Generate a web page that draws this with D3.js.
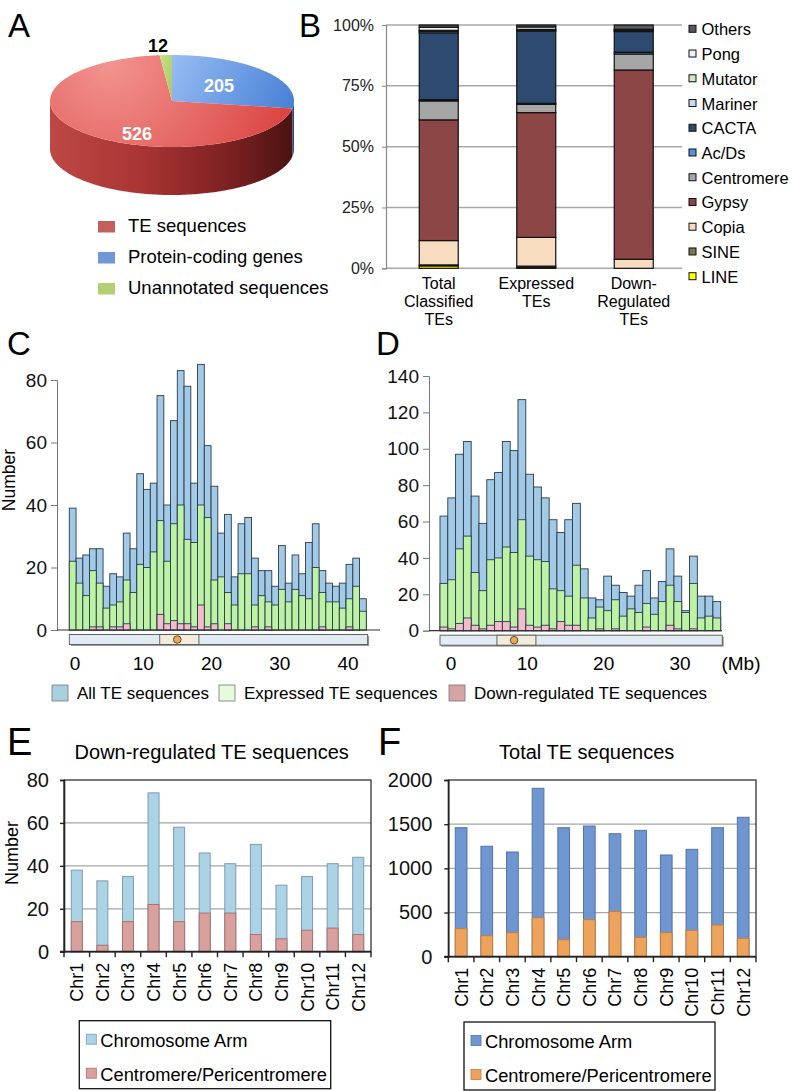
<!DOCTYPE html>
<html><head><meta charset="utf-8">
<script src="https://cdn.jsdelivr.net/npm/d3@7"></script>
<style>
body{margin:0;background:#fff}
svg{display:block}
text{font-family:"Liberation Sans",Arial,Helvetica,sans-serif;fill:#000}
</style>
</head><body>
<svg id="chart" width="796" height="1091"></svg>
<script>
// ---------------- DATA ----------------
const pieCategories = ["TE sequences", "Protein-coding genes", "Unannotated sequences"];
const pieValues = [526, 205, 12];

const teClasses = ["LINE", "SINE", "Copia", "Gypsy", "Centromere", "Ac/Ds", "CACTA", "Mariner", "Mutator", "Pong", "Others"];
const bGroups = ["Total\nClassified\nTEs", "Expressed\nTEs", "Down-\nRegulated\nTEs"];
const bTotalClassified = [1.0, 0.4, 10.0, 49.6, 7.8, 0.5, 27.5, 0.6, 0.4, 1.3, 0.9];
const bExpressed = [0.3, 0.6, 11.8, 51.3, 3.4, 0.4, 29.7, 0.4, 0.3, 1.0, 0.8];
const bDownRegulated = [0, 0, 3.7, 77.8, 6.6, 0.7, 8.5, 0.4, 0.2, 0.3, 1.8];
const bTicks = [0, 25, 50, 75, 100];

const cAll = [39,23,24,26,26,14,18,17,31,26,50,45,47,75,40,67,83,78,47,85,59,46,31,37,17,34,36,23,19,19,14,27,15,24,18,28,34,19,15,14,15,21,23,10];
const cExpressed = [22,15,11,19,15,7,8,9,16,12,21,20,25,35,22,34,40,29,28,40,36,16,17,12,8,18,18,8,11,9,8,13,9,13,11,10,20,12,9,9,7,10,14,6];
const cDown = [0,0,0,1,1,0,1,1,2,0,0,0,0,5,2,3,2,2,1,8,1,2,0,2,0,0,0,1,0,1,0,0,0,0,0,0,0,1,0,0,0,1,0,0];
const cYTicks = [0, 20, 40, 60, 80];
const cMbTicks = [0, 10, 20, 30, 40];

const dAll = [63,73,97,104,74,59,83,87,104,99,127,86,79,73,61,54,61,70,34,18,17,30,25,21,19,25,33,18,27,45,30,11,41,19,19,16];
const dExpressed = [26,28,45,52,32,22,39,40,46,43,61,41,39,38,23,22,19,36,18,7,13,11,17,8,12,10,15,9,16,25,16,10,26,7,8,7];
const dDown = [2,1,4,7,3,1,3,5,5,2,12,3,2,3,1,5,3,3,0,0,1,0,1,0,0,0,2,0,0,3,1,0,1,0,0,0];
const dYTicks = [0, 20, 40, 60, 80, 100, 120, 140];
const dMbTicks = [0, 10, 20, 30];

const histLegend = ["All TE sequences", "Expressed TE sequences", "Down-regulated TE sequences"];

const chrNames = ["Chr1","Chr2","Chr3","Chr4","Chr5","Chr6","Chr7","Chr8","Chr9","Chr10","Chr11","Chr12"];
const eTotal = [38,33,35,74,58,46,41,50,31,35,41,44];
const eCentro = [14,3,14,22,14,18,18,8,6,10,11,8];
const eYTicks = [0, 20, 40, 60, 80];
const fTotal = [1460,1250,1185,1906,1460,1479,1392,1430,1151,1215,1460,1578];
const fCentro = [317,238,272,441,192,419,513,219,272,298,359,208];
const fYTicks = [0, 500, 1000, 1500, 2000];
const regionLegend = ["Chromosome Arm", "Centromere/Pericentromere"];

// ---------------- STYLE ----------------
const svg = d3.select("#chart");
const defs = svg.append("defs");
const bPalette = ["#ffff00","#7a7850","#f8dcc0","#8c4646","#a6a6a6","#5b8fd9","#2f4a70","#c6d9f1","#d7e4bd","#eef0f4","#595959"];

function grad(id, type, attrs, stops){
  const gr = defs.append(type).attr("id", id);
  Object.entries(attrs).forEach(([k,v])=>gr.attr(k,v));
  stops.forEach(([o,c])=>gr.append("stop").attr("offset",o).attr("stop-color",c));
}

function letter(t, x, y, size){
  svg.append("text").attr("x",x).attr("y",y).attr("font-size",size).text(t);
}

// ---------------- PANEL A ----------------
(function(){
  const g = svg.append("g");
  const cx=172, cy=101, rx=122, ry=46, depth=48;
  grad("top0","radialGradient",{gradientUnits:"userSpaceOnUse",cx:110,cy:62,r:210},[[0,"#f29490"],[1,"#d83a38"]]);
  grad("side0","linearGradient",{gradientUnits:"userSpaceOnUse",x1:cx-rx,x2:cx+rx,y1:0,y2:0},[[0,"#bd4844"],[0.4,"#a73333"],[0.75,"#7a2020"],[1,"#4a1212"]]);
  grad("top1","linearGradient",{gradientUnits:"userSpaceOnUse",x1:172,y1:55,x2:290,y2:115},[[0,"#97bcf2"],[1,"#4680d6"]]);
  grad("side1","linearGradient",{x1:0,x2:1,y1:0,y2:0},[[0,"#2b5597"],[1,"#22457c"]]);
  grad("top2","linearGradient",{x1:0,x2:1,y1:0,y2:1},[[0,"#c4df84"],[1,"#a9c966"]]);
  grad("side2","linearGradient",{x1:0,x2:1,y1:0,y2:0},[[0,"#7a9a3a"],[1,"#6a8a30"]]);

  const order = [1, 0, 2];
  const arcs = d3.pie().sort(null).value(i=>pieValues[i])(order);
  const pt = (t,dy)=>[cx+rx*Math.sin(t), cy-ry*Math.cos(t)+dy];
  const sample = (a0,a1,dy)=>{const n=Math.max(2,Math.ceil((a1-a0)/0.02));return d3.range(n+1).map(k=>pt(a0+(a1-a0)*k/n,dy));};
  arcs.forEach(a=>{
    const s=Math.max(a.startAngle,Math.PI/2), e=Math.min(a.endAngle,3*Math.PI/2);
    if(s>=e) return;
    const pts = sample(s,e,0).concat(sample(s,e,depth).reverse());
    g.append("path").attr("d","M"+pts.map(p=>p.join(",")).join("L")+"Z").attr("fill",`url(#side${a.data})`);
  });
  arcs.forEach(a=>{
    const pts = sample(a.startAngle,a.endAngle,0);
    g.append("path").attr("d",`M${cx},${cy}L`+pts.map(p=>p.join(",")).join("L")+"Z").attr("fill",`url(#top${a.data})`);
  });
  const labPos = {0:[137,140,"#fff"],1:[219,92,"#fff"],2:[158,52,"#000"]};
  pieValues.forEach((v,i)=>{
    g.append("text").attr("x",labPos[i][0]).attr("y",labPos[i][1]).attr("text-anchor","middle")
      .attr("font-size",18).attr("font-weight","bold").style("fill",labPos[i][2]).text(v);
  });
  const legCol = ["#c3605c","#6f98d8","#b3cf72"];
  pieCategories.forEach((c,i)=>{
    const y = 221 + i*31;
    g.append("rect").attr("x",98).attr("y",y).attr("width",17).attr("height",11.5).attr("fill",legCol[i]);
    g.append("text").attr("x",128).attr("y",y+11).attr("font-size",18.5).text(c);
  });
  letter("A", 8, 37, 33);
})();

// ---------------- PANEL B ----------------
(function(){
  const g = svg.append("g");
  const x = d3.scaleBand().domain(bGroups).range([390, 682.5]).paddingInner(0.6).paddingOuter(0.3);
  const y = d3.scaleLinear().domain([0,100]).range([268.3, 25]);
  g.selectAll(".grid").data(bTicks).join("line")
    .attr("x1",386).attr("x2",682).attr("y1",d=>y(d)).attr("y2",d=>y(d))
    .attr("stroke","#a8a8a8").attr("stroke-width",1.5);
  const ax = g.append("g").attr("transform","translate(386,0)")
    .call(d3.axisLeft(y).tickValues(bTicks).tickSize(4).tickPadding(8).tickFormat(d=>d+"%"));
  ax.select(".domain").attr("stroke","#888").attr("stroke-width",1.2);
  ax.selectAll(".tick line").attr("stroke","#888");
  ax.selectAll("text").attr("font-size",16).attr("font-family",null).style("fill","#222");
  const series = [bTotalClassified, bExpressed, bDownRegulated];
  const rows = bGroups.map((gname,gi)=>{const o={group:gname};teClasses.forEach((c,ci)=>o[c]=series[gi][ci]);return o;});
  const stacked = d3.stack().keys(teClasses)(rows);
  stacked.forEach((s,si)=>{
    g.selectAll(null).data(s).join("rect")
      .attr("x",d=>x(d.data.group)).attr("width",x.bandwidth())
      .attr("y",d=>y(d[1])).attr("height",d=>Math.max(0,y(d[0])-y(d[1])))
      .attr("fill",bPalette[si]).attr("stroke","#111").attr("stroke-width",1.2);
  });
  bGroups.forEach(gname=>{
    gname.split("\n").forEach((ln,li)=>{
      g.append("text").attr("x",x(gname)+x.bandwidth()/2).attr("y",288.5+li*18.4)
        .attr("text-anchor","middle").attr("font-size",16).text(ln);
    });
  });
  const rev = teClasses.slice().reverse();
  rev.forEach((c,i)=>{
    const yc = 29.3 + i*24.74;
    const ci = teClasses.indexOf(c);
    g.append("rect").attr("x",689).attr("y",yc-4).attr("width",7).attr("height",7)
      .attr("fill",bPalette[ci]).attr("stroke","#111").attr("stroke-width",1);
    g.append("text").attr("x",701.5).attr("y",yc+6).attr("font-size",16.5).text(c);
  });
  letter("B", 299, 37, 33);
})();

// ---------------- PANELS C & D ----------------
const histCols = {all:"#a2cae6", expr:"#bdf2a4", down:"#f2bccb"};
function hist(o){
  const g = svg.append("g");
  const x = d3.scaleBand().domain(d3.range(o.all.length)).range([o.bx0, o.bx1]);
  const y = d3.scaleLinear().domain([0,o.yMax]).range([o.base, o.yTop]);
  const layers = [[o.all,histCols.all],[o.expr,histCols.expr],[o.down,histCols.down]];
  layers.forEach(([vals,col])=>{
    g.selectAll(null).data(vals).join("rect")
      .attr("x",(d,i)=>x(i)).attr("width",x.bandwidth())
      .attr("y",d=>y(d)).attr("height",d=>o.base-y(d))
      .attr("fill",col).attr("stroke",d=>d>0?"#2b3a4a":"none").attr("stroke-width",0.9);
  });
  const ax = g.append("g").attr("transform",`translate(${o.axX},0)`)
    .call(d3.axisLeft(y).tickValues(o.yTicks).tickSize(6).tickPadding(4));
  ax.select(".domain").attr("stroke","#777");
  ax.selectAll(".tick line").attr("stroke","#777");
  ax.selectAll("text").attr("font-size",19).attr("font-family",null).style("fill","#111");
  g.append("line").attr("x1",o.axX).attr("x2",o.axEnd).attr("y1",o.base).attr("y2",o.base).attr("stroke","#333").attr("stroke-width",1.2);
  const mb = d3.scaleLinear().domain([0,o.all.length]).range([o.bx0,o.bx1]);
  const iy = o.base+4.5, ih = 10;
  g.append("rect").attr("x",mb(0)).attr("y",iy+1.5).attr("width",mb(o.chrLen)-mb(0)).attr("height",ih).attr("fill","#9a9a9a").attr("transform","translate(1.5,0)");
  g.append("rect").attr("x",mb(0)).attr("y",iy).attr("width",mb(o.chrLen)-mb(0)).attr("height",ih).attr("fill","#e1ebf3").attr("stroke","#555").attr("stroke-width",0.9);
  g.append("rect").attr("x",mb(o.cen[0])).attr("y",iy).attr("width",mb(o.cen[1])-mb(o.cen[0])).attr("height",ih).attr("fill","#f2ecdc").attr("stroke","#555").attr("stroke-width",0.9);
  g.append("circle").attr("cx",mb(o.cen[2])).attr("cy",iy+ih/2).attr("r",3.8).attr("fill","#f3a64a").attr("stroke","#444").attr("stroke-width",0.9);
  const t = d3.scaleLinear().domain([0,o.mbTicks[o.mbTicks.length-1]]).range(o.tickRange);
  o.mbTicks.forEach(v=>g.append("text").attr("x",t(v)).attr("y",670).attr("text-anchor","middle").attr("font-size",19).text(v));
  return g;
}
hist({all:cAll,expr:cExpressed,down:cDown,bx0:69.3,bx1:366.3,base:630,yTop:380,yMax:80,yTicks:cYTicks,axX:57,axEnd:380,
  chrLen:44.2,cen:[13.4,19.2,16.0],mbTicks:cMbTicks,tickRange:[75,348]});
hist({all:dAll,expr:dExpressed,down:dDown,bx0:440,bx1:720.7,base:630.7,yTop:376,yMax:140,yTicks:dYTicks,axX:429,axEnd:722,
  chrLen:36.2,cen:[7.3,12.3,9.5],mbTicks:dMbTicks,tickRange:[451,680]});
svg.append("text").attr("x",741).attr("y",670).attr("text-anchor","middle").attr("font-size",19).text("(Mb)");
svg.append("text").attr("transform","translate(15,480) rotate(-90)").attr("text-anchor","middle").attr("font-size",17.5).text("Number");
letter("C", 7, 355, 33);
letter("D", 376, 355, 33);
(function(){
  const sw = ["#a9d0e0","#e6fadc","#d6a4a4"];
  const xs = [52, 219, 449];
  histLegend.forEach((l,i)=>{
    svg.append("rect").attr("x",xs[i]).attr("y",685).attr("width",16).attr("height",16).attr("fill",sw[i]).attr("stroke","#777").attr("stroke-width",0.8);
    svg.append("text").attr("x",xs[i]+25).attr("y",699).attr("font-size",17).text(l);
  });
})();

// ---------------- PANELS E & F ----------------
function chrPanel(o){
  const g = svg.append("g");
  const x = d3.scaleBand().domain(chrNames).range([o.x0,o.x1]).paddingInner(o.pad).paddingOuter(o.pad/2);
  const y = d3.scaleLinear().domain([0,o.yMax]).range([o.base,o.top]);
  o.yTicks.slice(1,-1).forEach(v=>g.append("line").attr("x1",o.x0).attr("x2",o.x1).attr("y1",y(v)).attr("y2",y(v)).attr("stroke","#a6a6a6").attr("stroke-width",1.3));
  g.selectAll(null).data(o.total).join("rect")
    .attr("x",(d,i)=>x(chrNames[i])).attr("width",x.bandwidth())
    .attr("y",d=>y(d)).attr("height",d=>o.base-y(d))
    .attr("fill",o.armCol).attr("stroke",o.armStroke).attr("stroke-width",1);
  g.selectAll(null).data(o.cen).join("rect")
    .attr("x",(d,i)=>x(chrNames[i])).attr("width",x.bandwidth())
    .attr("y",d=>y(d)).attr("height",d=>o.base-y(d))
    .attr("fill",o.cenCol).attr("stroke",o.cenStroke).attr("stroke-width",1);
  g.append("rect").attr("x",o.x0).attr("y",o.top).attr("width",o.x1-o.x0).attr("height",o.base-o.top).attr("fill","none").attr("stroke","#222").attr("stroke-width",1.2);
  const ax = g.append("g").attr("transform",`translate(${o.x0},0)`)
    .call(d3.axisLeft(y).tickValues(o.yTicks).tickSize(4).tickPadding(o.tp).tickFormat(d3.format("d")));
  ax.select(".domain").attr("stroke","#222").attr("stroke-width",1.6);
  ax.selectAll(".tick line").attr("stroke","#222").attr("stroke-width",1.4);
  ax.selectAll("text").attr("font-size",20).attr("font-family",null).style("fill","#111");
  g.append("line").attr("x1",o.x0-4).attr("x2",o.x1).attr("y1",o.base).attr("y2",o.base).attr("stroke","#222").attr("stroke-width",1.8);
  d3.range(13).forEach(k=>{
    const xx = o.x0 + k*x.step();
    g.append("line").attr("x1",xx).attr("x2",xx).attr("y1",o.base).attr("y2",o.base+5.5).attr("stroke","#222").attr("stroke-width",1.4);
  });
  chrNames.forEach(c=>{
    g.append("text").attr("transform",`translate(${x(c)+x.bandwidth()/2+6.5},${o.base+11}) rotate(-90)`)
      .attr("text-anchor","end").attr("font-size",18).text(c);
  });
  g.append("text").attr("x",o.titleX).attr("y",759).attr("text-anchor","middle").attr("font-size",20).text(o.title);
  g.append("rect").attr("x",o.lx).attr("y",o.ly).attr("width",o.lw).attr("height",68).attr("fill","#fff").attr("stroke","#111").attr("stroke-width",1.3);
  regionLegend.forEach((l,i)=>{
    g.append("rect").attr("x",o.lx+7).attr("y",o.ly+13.5+i*34).attr("width",10).attr("height",10)
      .attr("fill",i?o.cenCol:o.armCol).attr("stroke",i?o.cenStroke:o.armStroke).attr("stroke-width",0.8);
    g.append("text").attr("x",o.lx+21).attr("y",o.ly+26+i*34).attr("font-size",18.3).text(l);
  });
}
chrPanel({x0:64,x1:371,pad:0.57,base:951.7,top:780,yMax:80,yTicks:eYTicks,total:eTotal,cen:eCentro,tp:11,
  armCol:"#abd3e4",armStroke:"#7c9bb5",cenCol:"#d9a19d",cenStroke:"#a87272",title:"Down-regulated TE sequences",titleX:211.7,
  lx:79.3,ly:1020.7,lw:251.4});
chrPanel({x0:448.3,x1:756,pad:0.544,base:956.7,top:780,yMax:2000,yTicks:fYTicks,total:fTotal,cen:fCentro,tp:12,
  armCol:"#7096d1",armStroke:"#5472a6",cenCol:"#eda35c",cenStroke:"#c07e3c",title:"Total TE sequences",titleX:586.7,
  lx:464,ly:1022,lw:251});
svg.append("text").attr("transform","translate(18,853) rotate(-90)").attr("text-anchor","middle").attr("font-size",18).text("Number");
letter("E", 7, 755, 38);
letter("F", 378, 755, 38);
</script>
</body></html>
